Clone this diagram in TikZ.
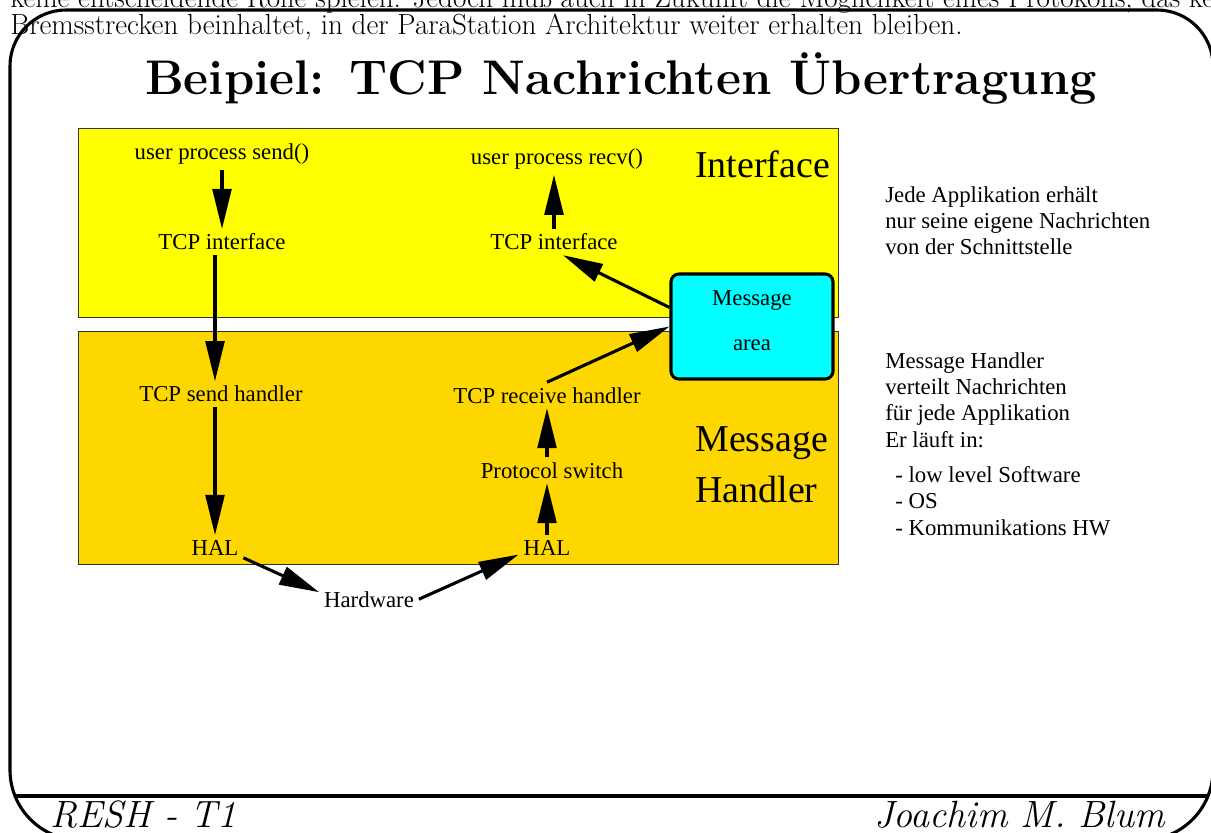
\documentclass[tikz,border=0pt]{standalone}
\usepackage{fontspec}
\newfontfamily\figfont{Liberation Serif}
\usetikzlibrary{arrows.meta,calc}
\definecolor{ifyellow}{RGB}{255,255,0}
\definecolor{mhgold}{RGB}{255,215,0}
\definecolor{areacyan}{RGB}{0,255,255}
\begin{document}
\begin{tikzpicture}[x=0.025cm,y=-0.025cm,
  lbl/.style={font=\figfont\fontsize{16.2}{18.5}\selectfont,anchor=base},
  biglbl/.style={font=\figfont\fontsize{27}{36}\selectfont,align=left,anchor=base west,inner sep=0},
  note/.style={font=\figfont\fontsize{16.2}{18.5}\selectfont,align=left,anchor=base west,inner sep=0},
  pagetext/.style={font=\fontsize{20.7}{27}\selectfont,anchor=base west,inner sep=0},
  foot/.style={font=\fontsize{27}{30}\selectfont\itshape,inner sep=0},
  flow/.style={line width=2.2pt,-{Triangle[length=1cm,width=0.47cm]}},
  frame/.style={line width=2.2pt},
  layer/.style={draw=black!80,line width=0.6pt}]
\useasboundingbox (0,0) rectangle (1211,833);
\node[pagetext] (prev) at (10,8) {keine entscheidende Rolle spielen. Jedoch muß auch in Zukunft die Möglichkeit eines Protokolls, das keine};
\node[pagetext] (cont) at (10,35) {Bremsstrecken beinhaltet, in der ParaStation Architektur weiter erhalten bleiben.};
\draw[frame,rounded corners=1.4cm] (10,400) -- (10,10) -- (1213,10) -- (1213,400);
\draw[frame,rounded corners=1.75cm] (10,400) -- (10,840) -- (1213,840) -- (1213,400);
\draw[frame] (15,796) -- (1208,796);
\node[anchor=base,inner sep=0,font=\fontsize{34.6}{40}\selectfont\bfseries] (title) at (621,95) {Beipiel: TCP Nachrichten Übertragung};
\node[foot,anchor=base west] (course) at (50,827) {RESH - T1};
\node[foot,anchor=base east] (author) at (1165,827) {Joachim M. Blum};
\fill[ifyellow,layer] (78,128) rectangle (838,317);
\fill[mhgold,layer] (78,331) rectangle (838,564);
\node[lbl] (sendU) at (222,160) {user process send()};
\node[lbl] (tcpL) at (222,250) {TCP interface};
\node[lbl] (recvU) at (557,165) {user process recv()};
\node[lbl] (tcpR) at (554,250) {TCP interface};
\node[lbl] (sendH) at (221,402) {TCP send handler};
\node[lbl] (recvH) at (547,403) {TCP receive handler};
\node[lbl] (proto) at (552,478) {Protocol switch};
\node[lbl] (halL) at (215,555) {HAL};
\node[lbl] (halR) at (547,555) {HAL};
\node[lbl] (hw) at (369,607) {Hardware};
\node[biglbl] (iface) at (695,178) {Interface};
\node[biglbl] (mhandler) at (695,502) {Message\\Handler};
\node[draw,line width=2.2pt,fill=areacyan,rounded corners=0.2cm,minimum width=4.05cm,minimum height=2.625cm,align=center,text depth=8.6pt,font=\figfont\fontsize{16.2}{18.5}\selectfont] (msg) at (752,326.5) {Message\\[14pt]area};
\node[note] (note1) at (885,255) {Jede Applikation erhält\\nur seine eigene Nachrichten\\von der Schnittstelle};
\node[note] (note2) at (885,447) {Message Handler\\verteilt Nachrichten\\für jede Applikation\\Er läuft in:};
\node[note] (note3) at (895,535) {- low level Software\\- OS\\- Kommunikations HW};
\draw[flow] (sendU) -- (tcpL);
\draw[flow] (tcpL.south -| halL) -- (sendH.north -| halL);
\draw[flow] (sendH.south -| halL) -- (halL);
\draw[flow] (halL.-20) -- (hw.172);
\draw[flow] (hw.east) -- (halR.194);
\draw[flow] (halR.north) -- (halR |- proto.south);
\draw[flow] (halR |- proto.north) -- (halR |- recvH.south);
\draw[flow] (recvH.north) -- (msg.west);
\draw[flow] (msg.167) -- ($(tcpR.south)+(9,0)$);
\draw[flow] (tcpR.north) -- (tcpR.north |- recvU.south);
\end{tikzpicture}
\end{document}
